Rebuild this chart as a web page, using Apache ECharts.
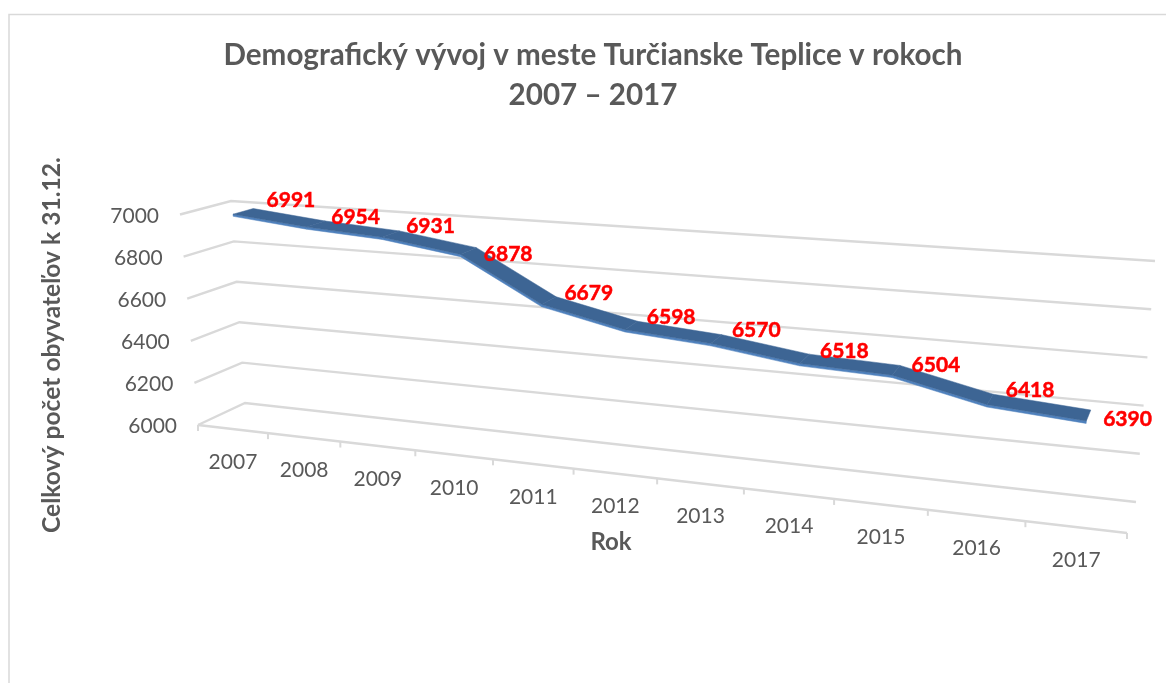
<!DOCTYPE html>
<html><head><meta charset="utf-8">
<style>html,body{margin:0;padding:0;background:#fff}#c{width:1166px;height:683px}</style>
<script src="https://cdn.jsdelivr.net/npm/echarts@6/dist/echarts.min.js"></script>
</head><body><div id="c"></div>
<script>
const categories = ['2007','2008','2009','2010','2011','2012','2013','2014','2015','2016','2017'];
const population = [6991,6954,6931,6878,6679,6598,6570,6518,6504,6418,6390];
const valueTicks = [6000,6200,6400,6600,6800,7000];
const chartTitle = 'Demografický vývoj v meste Turčianske Teplice v rokoch\n2007 – 2017';
const xName = 'Rok';
const yName = 'Celkový počet obyvateľov k 31.12.';

// Excel-style 3D box: corners of the plot box on the page [x,y]
const BOX = {
  fl:[198,425], fr:[1127,533], bl:[245,403], br:[1136,502],
  flt:[180,214.5], frt:[1147,282], blt:[231,201], brt:[1155,261]
};
const PERSP = 1.228, RIB_FRONT = 0.34, RIB_BACK = 0.75, RIB_DROP = 0.010;
// small label nudges [dx,dy] from each point, as placed in the reference
const labelNudge = [[48,-11],[40,-7],[40,-8],[40,3],[40,-8],[40,-8],[40,-9],[40,-8],[40,-5],[40,-9],[39,4]];

const mix = (a,b,t)=>[a[0]+(b[0]-a[0])*t,a[1]+(b[1]-a[1])*t];
function project(u,w,d){
  const k = u/(PERSP+(1-PERSP)*u);
  const f = mix(mix(BOX.fl,BOX.fr,k),mix(BOX.flt,BOX.frt,k),w);
  const b = mix(mix(BOX.bl,BOX.br,k),mix(BOX.blt,BOX.brt,k),w);
  return mix(f,b,d);
}
function norm(api,params,x,y,shift){
  const r = params.coordSys, c = api.coord([x,y]);
  return [(c[0]+(shift||0)-r.x)/r.width,(r.y+r.height-c[1])/r.height];
}
const GREY='#D9D9D9', TXT='#595959';

function wallItem(params,api){
  const v = api.value(1), n = norm(api,params,0,v), w = n[1];
  const a = project(0,w,0), b = project(0,w,1), c = project(1,w,1);
  return {type:'group',children:[
    {type:'polyline',shape:{points:[a,b,c]},style:{stroke:GREY,lineWidth:2.4,fill:null}},
    {type:'text',style:{text:String(v),x:a[0]-21,y:a[1]+1.5,align:'right',verticalAlign:'middle',font:'21px Lato',fill:TXT}}
  ]};
}
function floorItem(params,api){
  const i = api.value(0), band = api.size([1,0])[0];
  const right = project(norm(api,params,i,6000,band/2)[0],0,0);
  const left = project(norm(api,params,i,6000,-band/2)[0],0,0);
  const mid = [(left[0]+right[0])/2,(left[1]+right[1])/2];
  const ch = [
    {type:'line',shape:{x1:right[0],y1:right[1],x2:right[0],y2:right[1]+6},style:{stroke:GREY,lineWidth:2}},
    {type:'text',style:{text:categories[i],x:mid[0],y:mid[1]+33,align:'center',verticalAlign:'middle',font:'21px Lato',fill:TXT}}
  ];
  if(i===0){
    ch.push({type:'line',shape:{x1:left[0],y1:left[1],x2:left[0],y2:left[1]+6},style:{stroke:GREY,lineWidth:2}});
    const end = project(1,0,0);
    ch.push({type:'line',shape:{x1:left[0],y1:left[1],x2:end[0],y2:end[1]},style:{stroke:GREY,lineWidth:2.4}});
  }
  return {type:'group',children:ch};
}
function ribbonItem(params,api){
  const i = api.value(0), v = api.value(1), ch = [];
  const a = norm(api,params,i,v);
  if(i<categories.length-1){
    const b = norm(api,params,i+1,population[i+1]);
    const A1 = project(a[0],a[1],RIB_FRONT), B1 = project(b[0],b[1],RIB_FRONT);
    const A2 = project(a[0],a[1],RIB_BACK), B2 = project(b[0],b[1],RIB_BACK);
    const A0 = project(a[0],a[1]-RIB_DROP,RIB_FRONT), B0 = project(b[0],b[1]-RIB_DROP,RIB_FRONT);
    ch.push({type:'polygon',shape:{points:[A1,B1,B0,A0]},style:{fill:'#4F81BD',stroke:'#4F81BD',lineWidth:.5}});
    ch.push({type:'polygon',shape:{points:[A1,B1,B2,A2]},style:{fill:'#3D6594',stroke:'#3D6594',lineWidth:.5}});
  }
  return {type:'group',children:ch};
}
function labelItem(params,api){
  const i = api.value(0), v = api.value(1), a = norm(api,params,i,v);
  const p = project(a[0],a[1],0.54), nudge = labelNudge[i];
  return {type:'text',style:{text:String(v),x:p[0]+nudge[0],y:p[1]+nudge[1],align:'center',verticalAlign:'middle',font:'bold 21px Lato',fill:'#FF0000',stroke:'#FF0000',lineWidth:0.5}};
}
const pts = categories.map((c,i)=>[i,population[i]]);
const base = {type:'custom',coordinateSystem:'cartesian2d',silent:true,animation:false,clip:false};
const chart = echarts.init(document.getElementById('c'),null,{renderer:'canvas'});
chart.setOption({
  animation:false,
  backgroundColor:'#fff',
  title:{text:chartTitle,left:588,top:30,textAlign:'center',textStyle:{fontFamily:'Lato',fontWeight:'bold',fontSize:29.6,color:TXT,lineHeight:40}},
  grid:{left:198,right:39,top:215,bottom:258},
  xAxis:{type:'category',data:categories,show:false},
  yAxis:{type:'value',min:6000,max:7000,interval:200,show:false},
  graphic:[
    {type:'polyline',silent:true,shape:{points:[[9,683],[9,14.5],[1166,14.5]]},style:{stroke:GREY,lineWidth:1.5,fill:null}},
    {type:'text',silent:true,style:{text:xName,x:611,y:542,align:'center',verticalAlign:'middle',font:'bold 24px Lato',fill:TXT}},
    {type:'text',silent:true,x:52,y:345,rotation:Math.PI/2,style:{text:yName,x:0,y:0,align:'center',verticalAlign:'middle',font:'bold 24.6px Lato',fill:TXT}}
  ],
  series:[
    Object.assign({},base,{name:'walls',data:valueTicks.map(v=>[0,v]),renderItem:wallItem,z:1}),
    Object.assign({},base,{name:'floor',data:pts,renderItem:floorItem,z:2}),
    Object.assign({},base,{name:'Obyvatelia',data:pts,renderItem:ribbonItem,z:3}),
    Object.assign({},base,{name:'labels',data:pts,renderItem:labelItem,z:4})
  ]
});
</script></body></html>
